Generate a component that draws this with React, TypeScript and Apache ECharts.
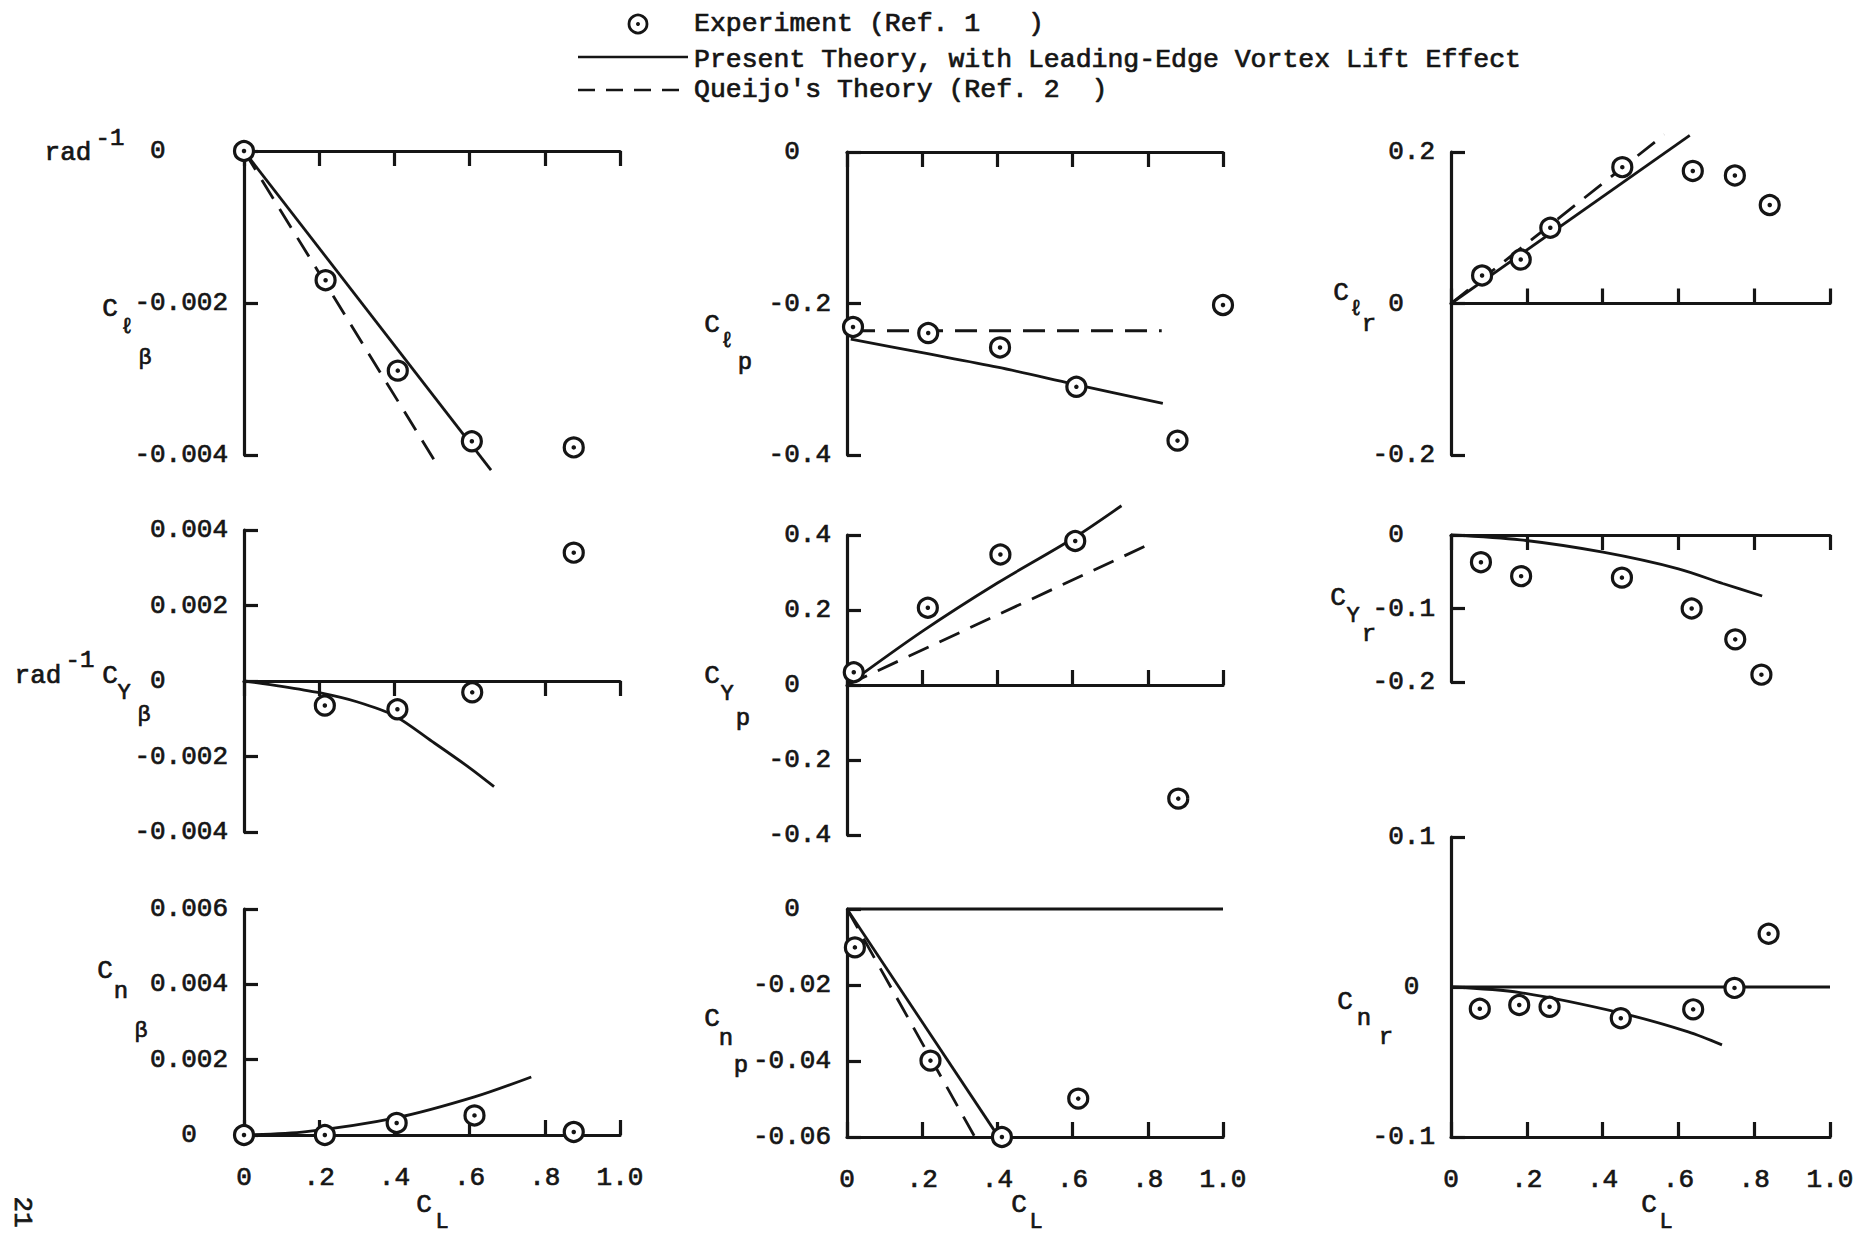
import React, { useEffect, useRef } from "react";
import * as echarts from "echarts";

const FONT = '"Liberation Mono", "DejaVu Sans Mono", monospace';
const INK = "#151515";
const NBSP = "\u00A0";
const TEXT_WEIGHT = 0.7; // thin outline that gives the typewriter strokes some body

// Lift coefficient axis (shared by every panel)
const CL_TICKS = ["0", ".2", ".4", ".6", ".8", "1.0"];

// ---- C_l_beta ----
const clbExpX = [0, 0.217, 0.409, 0.606, 0.877];
const clbExpY = [0, -0.0017, -0.00289, -0.00382, -0.0039];
const clbTheoryX = [0, 0.657];
const clbTheoryY = [0, -0.0042];
const clbQueijoX = [0, 0.51];
const clbQueijoY = [0, -0.0041];

// ---- C_l_p ----
const clpExpX = [0.016, 0.216, 0.407, 0.61, 0.879, 1.0];
const clpExpY = [-0.231, -0.239, -0.258, -0.31, -0.381, -0.202];
const clpTheoryX = [0.01, 0.2, 0.4, 0.6, 0.84];
const clpTheoryY = [-0.247, -0.265, -0.284, -0.306, -0.332];
const clpQueijoX = [0.016, 0.837];
const clpQueijoY = [-0.236, -0.236];

// ---- C_l_r ----
const clrExpX = [0.082, 0.184, 0.262, 0.452, 0.638, 0.749, 0.841];
const clrExpY = [0.037, 0.058, 0.1, 0.18, 0.175, 0.169, 0.13];
const clrTheoryX = [0, 0.63];
const clrTheoryY = [0, 0.222];
const clrQueijoX = [0, 0.563];
const clrQueijoY = [0, 0.223];

// ---- C_Y_beta ----
const cybExpX = [0.215, 0.408, 0.607, 0.877];
const cybExpY = [-0.00065, -0.00075, -0.0003, 0.0034];
const cybTheoryX = [0, 0.1, 0.2, 0.3, 0.4, 0.5, 0.6, 0.665];
const cybTheoryY = [0, -0.00014, -0.00031, -0.00055, -0.00092, -0.0016, -0.0023, -0.0028];

// ---- C_Y_p ----
const cypExpX = [0.018, 0.215, 0.408, 0.607, 0.881];
const cypExpY = [0.034, 0.206, 0.348, 0.384, -0.303];
const cypTheoryX = [0, 0.2, 0.4, 0.6, 0.73];
const cypTheoryY = [0, 0.143, 0.272, 0.39, 0.478];
const cypQueijoX = [0, 0.797];
const cypQueijoY = [0, 0.372];

// ---- C_Y_r ----
const cyrExpX = [0.079, 0.185, 0.451, 0.635, 0.75, 0.819];
const cyrExpY = [-0.037, -0.056, -0.058, -0.1, -0.142, -0.19];
const cyrTheoryX = [0, 0.183, 0.401, 0.6, 0.717, 0.821];
const cyrTheoryY = [0, -0.0066, -0.0234, -0.046, -0.066, -0.083];

// ---- C_n_beta ----
const cnbExpX = [0, 0.215, 0.406, 0.613, 0.877];
const cnbExpY = [0, 0, 0.00032, 0.00052, 0.00008];
const cnbTheoryX = [0, 0.166, 0.407, 0.613, 0.764];
const cnbTheoryY = [0, 0.00009, 0.00046, 0.00101, 0.00154];

// ---- C_n_p ----
const cnpExpX = [0.021, 0.222, 0.412, 0.615];
const cnpExpY = [-0.0101, -0.0399, -0.06, -0.0499];
const cnpTheoryX = [0, 0.4];
const cnpTheoryY = [0, -0.0595];
const cnpQueijoX = [0, 0.34];
const cnpQueijoY = [0, -0.06];

// ---- C_n_r ----
const cnrExpX = [0.076, 0.18, 0.26, 0.448, 0.639, 0.748, 0.838];
const cnrExpY = [-0.0145, -0.012, -0.0132, -0.0208, -0.0149, -0.0006, 0.0355];
const cnrTheoryX = [0, 0.182, 0.449, 0.626, 0.715];
const cnrTheoryY = [0, -0.0037, -0.0174, -0.0299, -0.0386];

const ZERO_X = [0, 1];
const ZERO_Y = [0, 0];

const zip = (xs: number[], ys: number[]) => xs.map((x, i) => [x, ys[i]]);

type Pair = [number[], number[]];
type Panel = {
  box: { left: number; top: number; width: number; height: number };
  yMin: number;
  yMax: number;
  yStep: number;
  decimals: number;
  zeroPad: number;
  xOnZero: boolean;
  ticksUp: boolean;
  zeroLine: boolean;
  xLabels: boolean;
  smooth: boolean;
  exp: Pair;
  theory: Pair;
  queijo?: Pair;
};

const COL = [244, 847, 1451];
const W = [376, 376, 379];

const panels: Panel[] = [
  { box: { left: COL[0], top: 151, width: W[0], height: 304 }, yMin: -0.004, yMax: 0, yStep: 0.002, decimals: 3, zeroPad: 4, xOnZero: true, ticksUp: false, zeroLine: false, xLabels: false, smooth: false, exp: [clbExpX, clbExpY], theory: [clbTheoryX, clbTheoryY], queijo: [clbQueijoX, clbQueijoY] },
  { box: { left: COL[1], top: 152, width: W[1], height: 303 }, yMin: -0.4, yMax: 0, yStep: 0.2, decimals: 1, zeroPad: 2, xOnZero: true, ticksUp: false, zeroLine: false, xLabels: false, smooth: true, exp: [clpExpX, clpExpY], theory: [clpTheoryX, clpTheoryY], queijo: [clpQueijoX, clpQueijoY] },
  { box: { left: COL[2], top: 152, width: W[2], height: 303 }, yMin: -0.2, yMax: 0.2, yStep: 0.2, decimals: 1, zeroPad: 2, xOnZero: true, ticksUp: true, zeroLine: false, xLabels: false, smooth: false, exp: [clrExpX, clrExpY], theory: [clrTheoryX, clrTheoryY], queijo: [clrQueijoX, clrQueijoY] },
  { box: { left: COL[0], top: 530, width: W[0], height: 302 }, yMin: -0.004, yMax: 0.004, yStep: 0.002, decimals: 3, zeroPad: 4, xOnZero: true, ticksUp: false, zeroLine: false, xLabels: false, smooth: true, exp: [cybExpX, cybExpY], theory: [cybTheoryX, cybTheoryY] },
  { box: { left: COL[1], top: 535, width: W[1], height: 300 }, yMin: -0.4, yMax: 0.4, yStep: 0.2, decimals: 1, zeroPad: 2, xOnZero: true, ticksUp: true, zeroLine: false, xLabels: false, smooth: true, exp: [cypExpX, cypExpY], theory: [cypTheoryX, cypTheoryY], queijo: [cypQueijoX, cypQueijoY] },
  { box: { left: COL[2], top: 535, width: W[2], height: 147 }, yMin: -0.2, yMax: 0, yStep: 0.1, decimals: 1, zeroPad: 2, xOnZero: true, ticksUp: false, zeroLine: false, xLabels: false, smooth: true, exp: [cyrExpX, cyrExpY], theory: [cyrTheoryX, cyrTheoryY] },
  { box: { left: COL[0], top: 909, width: W[0], height: 226 }, yMin: 0, yMax: 0.006, yStep: 0.002, decimals: 3, zeroPad: 2, xOnZero: true, ticksUp: true, zeroLine: false, xLabels: true, smooth: true, exp: [cnbExpX, cnbExpY], theory: [cnbTheoryX, cnbTheoryY] },
  { box: { left: COL[1], top: 909, width: W[1], height: 228 }, yMin: -0.06, yMax: 0, yStep: 0.02, decimals: 2, zeroPad: 2, xOnZero: false, ticksUp: true, zeroLine: true, xLabels: true, smooth: false, exp: [cnpExpX, cnpExpY], theory: [cnpTheoryX, cnpTheoryY], queijo: [cnpQueijoX, cnpQueijoY] },
  { box: { left: COL[2], top: 837, width: W[2], height: 300 }, yMin: -0.1, yMax: 0.1, yStep: 0.1, decimals: 1, zeroPad: 1, xOnZero: false, ticksUp: true, zeroLine: true, xLabels: true, smooth: true, exp: [cnrExpX, cnrExpY], theory: [cnrTheoryX, cnrTheoryY] },
];

// Coefficient symbols beside each y axis: [text, x, y, size]
type Glyph = [string, number, number, number];
const yNames: Glyph[][] = [
  [["C", 110, 309, 26], ["\u2113", 127, 327, 22], ["\u03B2", 145, 358, 22]],
  [["C", 712, 325, 26], ["\u2113", 727, 341, 22], ["p", 745, 362, 24]],
  [["C", 1341, 293, 26], ["\u2113", 1356, 309, 22], ["r", 1369, 324, 24]],
  [["C", 110, 676, 26], ["Y", 124, 693, 22], ["\u03B2", 144, 715, 22]],
  [["C", 712, 676, 26], ["Y", 727, 694, 22], ["p", 743, 718, 24]],
  [["C", 1338, 598, 26], ["Y", 1353, 616, 22], ["r", 1369, 634, 24]],
  [["C", 105, 971, 26], ["n", 121, 991, 24], ["\u03B2", 141, 1031, 22]],
  [["C", 712, 1019, 26], ["n", 726, 1038, 24], ["p", 741, 1065, 24]],
  [["C", 1345, 1002, 26], ["n", 1364, 1018, 24], ["r", 1386, 1037, 24]],
];

const txt = (text: string, x: number, y: number, size: number, align = "center", rotation = 0) => ({
  type: "text",
  x,
  y,
  rotation,
  silent: true,
  style: {
    text,
    fill: INK,
    stroke: INK,
    lineWidth: TEXT_WEIGHT,
    font: `${size}px ${FONT}`,
    textAlign: align,
    textVerticalAlign: "middle",
  },
});

function buildOption() {
  const grid: any[] = [];
  const xAxis: any[] = [];
  const yAxis: any[] = [];
  const series: any[] = [];
  const axisLine = { color: INK, width: 3.2 };
  const labelStyle = {
    fontFamily: FONT,
    fontSize: 26,
    color: INK,
    textBorderColor: INK,
    textBorderWidth: TEXT_WEIGHT,
  };

  panels.forEach((p, i) => {
    grid.push({ ...p.box, containLabel: false });
    xAxis.push({
      type: "value",
      gridIndex: i,
      min: 0,
      max: 1,
      interval: 0.2,
      position: "bottom",
      axisLine: { show: true, onZero: p.xOnZero, lineStyle: axisLine },
      axisTick: { show: true, inside: p.ticksUp, length: 15, lineStyle: axisLine },
      axisLabel: {
        show: p.xLabels,
        showMinLabel: true,
        showMaxLabel: true,
        formatter: (v: number) => CL_TICKS[Math.round(v / 0.2)] ?? "",
        ...labelStyle,
        margin: 30,
      },
      splitLine: { show: false },
    });
    yAxis.push({
      type: "value",
      gridIndex: i,
      min: p.yMin,
      max: p.yMax,
      interval: p.yStep,
      axisLine: { show: true, onZero: false, lineStyle: axisLine },
      axisTick: { show: true, inside: true, length: 14, lineStyle: axisLine },
      axisLabel: {
        formatter: (v: number) =>
          Math.abs(v) < 1e-9 ? "0" + NBSP.repeat(p.zeroPad) : v.toFixed(p.decimals),
        ...labelStyle,
        margin: 16,
      },
      splitLine: { show: false },
    });

    const common = { xAxisIndex: i, yAxisIndex: i, clip: false, animation: false, silent: true };
    if (p.zeroLine) {
      series.push({
        ...common,
        type: "line",
        data: zip(ZERO_X, ZERO_Y),
        symbol: "none",
        lineStyle: { color: INK, width: 3.2 },
        z: 2,
      });
    }
    series.push({
      ...common,
      type: "line",
      name: "Present Theory",
      data: zip(p.theory[0], p.theory[1]),
      symbol: "none",
      smooth: p.smooth ? 0.3 : false,
      lineStyle: { color: INK, width: 2.8 },
      z: 3,
    });
    if (p.queijo) {
      series.push({
        ...common,
        type: "line",
        name: "Queijo's Theory",
        data: zip(p.queijo[0], p.queijo[1]),
        symbol: "none",
        lineStyle: { color: INK, width: 2.8, type: [22, 12] },
        z: 3,
      });
    }
    series.push({
      ...common,
      type: "scatter",
      name: "Experiment",
      data: zip(p.exp[0], p.exp[1]),
      symbol: "circle",
      symbolSize: 19,
      itemStyle: { color: "#ffffff", borderColor: INK, borderWidth: 3.2, opacity: 1 },
      z: 5,
    });
    series.push({
      ...common,
      type: "scatter",
      name: "Experiment centre",
      data: zip(p.exp[0], p.exp[1]),
      symbol: "circle",
      symbolSize: 4.5,
      itemStyle: { color: INK, opacity: 1 },
      z: 6,
    });
  });

  const graphic: any[] = [];
  // legend
  graphic.push({
    type: "circle",
    silent: true,
    shape: { cx: 638, cy: 24, r: 9 },
    style: { fill: "#fff", stroke: INK, lineWidth: 2.8 },
  });
  graphic.push({ type: "circle", silent: true, shape: { cx: 638, cy: 24, r: 2 }, style: { fill: INK } });
  graphic.push(txt("Experiment (Ref. 1   )", 694, 24, 26.5, "left"));
  graphic.push({
    type: "line",
    silent: true,
    shape: { x1: 578, y1: 57, x2: 688, y2: 57 },
    style: { stroke: INK, lineWidth: 2.6 },
  });
  graphic.push(txt("Present Theory, with Leading-Edge Vortex Lift Effect", 694, 60, 26.5, "left"));
  graphic.push({
    type: "line",
    silent: true,
    shape: { x1: 578, y1: 90, x2: 688, y2: 90 },
    style: { stroke: INK, lineWidth: 2.6, lineDash: [17, 11] },
  });
  graphic.push(txt("Queijo's Theory (Ref. 2  )", 694, 90, 26.5, "left"));

  // axis symbols
  yNames.forEach((parts) => parts.forEach(([t, x, y, s]) => graphic.push(txt(t, x, y, s))));

  // units
  graphic.push(txt("rad", 68, 153, 26));
  graphic.push(txt("-1", 110, 138, 24));
  graphic.push(txt("rad", 38, 676, 26));
  graphic.push(txt("-1", 80, 660, 24));

  // C_L captions under the bottom row
  [
    [424, 442],
    [1019, 1036],
    [1649, 1666],
  ].forEach(([cx, lx]) => {
    graphic.push(txt("C", cx, 1205, 26));
    graphic.push(txt("L", lx, 1222, 22));
  });

  // page number
  graphic.push(txt("21", 22, 1212, 26, "center", -Math.PI / 2));

  return {
    animation: false,
    backgroundColor: "#ffffff",
    grid,
    xAxis,
    yAxis,
    series,
    graphic,
  };
}

export default function App() {
  const ref = useRef<HTMLDivElement>(null);
  useEffect(() => {
    if (!ref.current) return;
    const chart = echarts.init(ref.current, undefined, { renderer: "svg" });
    chart.setOption(buildOption() as any);
    return () => chart.dispose();
  }, []);
  return (
    <div
      ref={ref}
      style={{ position: "fixed", left: 0, top: 0, width: 1876, height: 1238, background: "#fff" }}
    />
  );
}
